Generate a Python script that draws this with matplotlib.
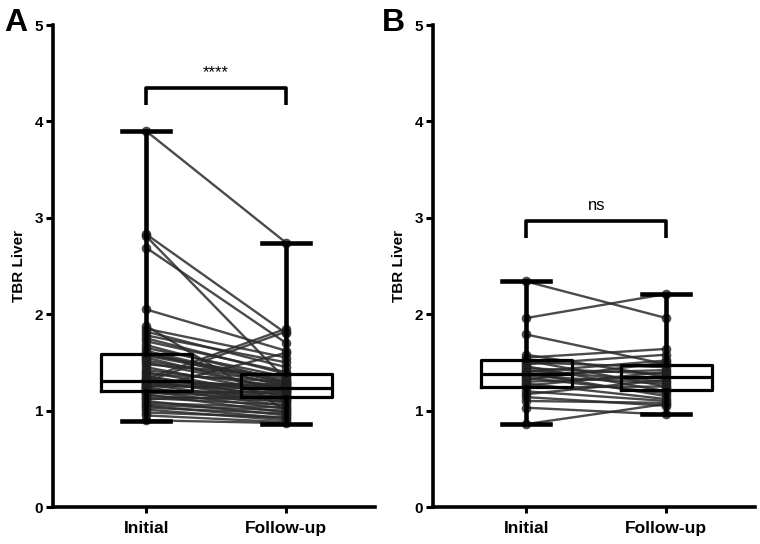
import matplotlib
matplotlib.use("Agg")
import matplotlib.pyplot as plt
import numpy as np

plt.rcParams['font.family'] = ['Liberation Sans', 'DejaVu Sans']
plt.rcParams['font.weight'] = 'bold'

groups = ['Initial', 'Follow-up']

# panel A, paired values
a_initial = [3.90, 2.83, 2.81, 2.69, 2.05, 1.88, 1.85, 1.82, 1.78, 1.75,
             1.72, 1.68, 1.65, 1.62, 1.60, 1.58, 1.57, 1.55, 1.52, 1.50,
             1.48, 1.45, 1.42, 1.40, 1.38, 1.36, 1.34, 1.33, 1.32, 1.31,
             1.30, 1.29, 1.28, 1.27, 1.26, 1.25, 1.24, 1.23, 1.22, 1.21,
             1.20, 1.19, 1.18, 1.17, 1.15, 1.13, 1.12, 1.10, 1.08, 1.06,
             1.05, 1.03, 1.01, 0.98, 0.95, 0.90]
a_followup = [2.74, 1.80, 1.32, 1.70, 1.62, 1.00, 1.55, 1.45, 1.50, 1.38,
              1.40, 1.30, 1.35, 1.28, 1.25, 1.33, 1.30, 1.20, 1.27, 1.22,
              1.36, 1.18, 1.25, 1.15, 1.30, 1.12, 1.20, 1.85, 1.24, 1.10,
              1.82, 1.16, 1.28, 1.08, 1.22, 1.26, 1.05, 1.60, 1.14, 1.18,
              1.02, 1.12, 1.20, 0.98, 1.10, 1.06, 1.15, 0.95, 1.03, 1.00,
              0.92, 0.97, 0.90, 0.93, 0.88, 0.87]

# panel B, paired values
b_initial = [2.34, 1.96, 1.79, 1.58, 1.55, 1.52, 1.50, 1.48, 1.46, 1.44,
             1.42, 1.40, 1.39, 1.38, 1.36, 1.34, 1.32, 1.30, 1.28, 1.26,
             1.24, 1.20, 1.17, 1.14, 1.10, 1.03, 0.86]
b_followup = [1.96, 2.21, 1.48, 1.35, 1.64, 1.25, 1.45, 1.58, 1.20, 1.38,
              1.30, 1.52, 1.15, 1.42, 1.28, 1.18, 1.50, 1.35, 1.12, 1.40,
              1.25, 1.10, 1.32, 1.05, 1.08, 0.96, 1.07]

# box summaries: min, q1, median, q3, max
a_box = [[0.89, 1.20, 1.31, 1.59, 3.90], [0.86, 1.14, 1.23, 1.38, 2.74]]
b_box = [[0.86, 1.25, 1.38, 1.52, 2.34], [0.96, 1.21, 1.35, 1.47, 2.21]]

a_sig = '****'
b_sig = 'ns'


def panel(ax, init, fup, box, sig, sig_y):
    x = np.arange(2)
    ax.plot(x, np.vstack([init, fup]), color='#2b2b2b', lw=1.7, alpha=0.85, zorder=2)
    ax.scatter(np.zeros(len(init)), init, s=48, color='#1e1e1e', alpha=0.8, zorder=3, lw=0)
    ax.scatter(np.ones(len(fup)), fup, s=48, color='#1e1e1e', alpha=0.8, zorder=3, lw=0)
    stats = []
    for b in box:
        stats.append({'whislo': b[0], 'q1': b[1], 'med': b[2], 'q3': b[3], 'whishi': b[4]})
    ax.bxp(stats, positions=x, widths=0.65, showfliers=False, capwidths=0.34,
           boxprops=dict(color='black', lw=2.3),
           medianprops=dict(color='black', lw=2.3),
           whiskerprops=dict(color='black', lw=3.3),
           capprops=dict(color='black', lw=3.3), zorder=4)
    # significance bracket
    ax.plot([0, 0, 1, 1], [sig_y - 0.18, sig_y, sig_y, sig_y - 0.18], color='black', lw=2.6,
            solid_capstyle='butt', zorder=5)
    ax.text(0.5, sig_y + 0.08, sig, ha='center', va='bottom',
            fontsize=12 if sig == 'ns' else 12, fontweight='normal')

    ax.set_xlim(-0.665, 1.635)
    ax.set_ylim(0, 5)
    ax.set_xticks(x)
    ax.set_xticklabels(groups, fontsize=12.5, fontweight='bold')
    ax.set_yticks(range(6))
    ax.tick_params(axis='y', labelsize=11, width=2.2, length=5, pad=2)
    ax.tick_params(axis='x', width=2.2, length=4, pad=6)
    ax.set_ylabel('TBR Liver', fontsize=11, fontweight='bold', labelpad=6)
    for s in ['top', 'right']:
        ax.spines[s].set_visible(False)
    for s in ['left', 'bottom']:
        ax.spines[s].set_linewidth(2.6)


fig = plt.figure(figsize=(7.6, 5.44), dpi=100)
ax1 = fig.add_axes([0.0697, 0.068, 0.424, 0.886])
ax2 = fig.add_axes([0.5697, 0.068, 0.424, 0.886])

panel(ax1, a_initial, a_followup, a_box, a_sig, 4.35)
panel(ax2, b_initial, b_followup, b_box, b_sig, 2.97)

fig.text(0.005, 0.985, 'A', fontsize=23, fontweight='bold', va='top')
fig.text(0.502, 0.985, 'B', fontsize=23, fontweight='bold', va='top')

fig.savefig('out.png', dpi=100)
